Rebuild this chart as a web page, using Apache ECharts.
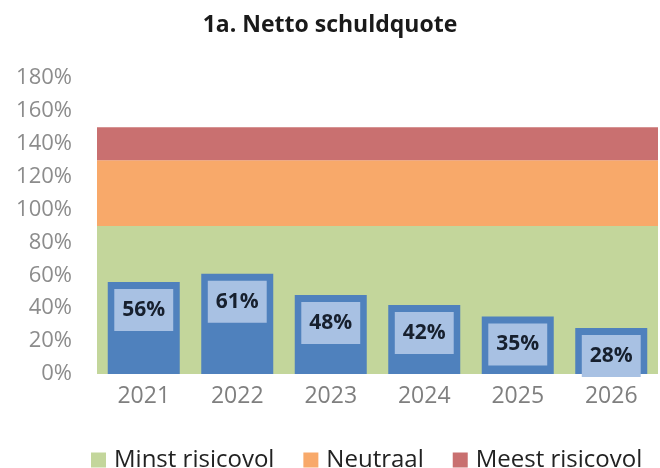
<!DOCTYPE html>
<html>
<head>
<meta charset="utf-8">
<script src="https://cdn.jsdelivr.net/npm/echarts@6/dist/echarts.min.js"></script>
<style>html,body{margin:0;padding:0;background:#fff}#c{width:660px;height:468px}</style>
</head>
<body>
<div id="c"></div>
<script>
const years = ['2021','2022','2023','2024','2025','2026'];
const quote = [56, 61, 48, 42, 35, 28];
const bandNames = ['Minst risicovol','Neutraal','Meest risicovol'];
const bandRanges = [[0, 90], [90, 130], [130, 150]];
const yTicks = [0, 20, 40, 60, 80, 100, 120, 140, 160, 180];

const bandColors = ['#c3d69b', '#f8a96a', '#c97070'];
const font = '"Open Sans", Lato, sans-serif';

const bandSeries = bandNames.map((n, i) => ({
  name: n,
  type: 'line',
  data: [],
  itemStyle: { color: bandColors[i] },
  markArea: {
    silent: true,
    itemStyle: { color: bandColors[i] },
    data: [[{ yAxis: bandRanges[i][0] }, { yAxis: bandRanges[i][1] }]]
  }
}));

const chart = echarts.init(document.getElementById('c'));
chart.setOption({
  animation: false,
  title: {
    text: '1a. Netto schuldquote',
    left: 'center', top: 9,
    textStyle: { fontFamily: font, fontSize: 23, fontWeight: 'bold', color: '#1a1a1a' }
  },
  legend: {
    data: bandNames,
    top: 443, left: 86,
    icon: 'rect', itemWidth: 15, itemHeight: 15, itemGap: 29,
    textStyle: { fontFamily: font, fontSize: 24, color: '#222', padding: [0, 0, 0, 3] }
  },
  grid: { left: 97, right: 2, top: 78, bottom: 94 },
  xAxis: {
    type: 'category',
    data: years,
    axisLine: { show: false },
    axisTick: { show: false },
    axisLabel: { fontFamily: font, fontSize: 23, color: '#7f7f7f', margin: 11 }
  },
  yAxis: {
    type: 'value',
    min: 0, max: 180, interval: 20,
    splitLine: { show: false },
    axisLine: { show: false },
    axisTick: { show: false },
    axisLabel: { fontFamily: font, fontSize: 22, color: '#8c8c8c', margin: 25,
      formatter: v => yTicks.includes(v) ? v + '%' : '' }
  },
  series: [
    ...bandSeries,
    {
      name: 'Netto schuldquote',
      type: 'bar',
      data: quote,
      barWidth: 72,
      z: 5,
      itemStyle: { color: '#4f81bd' },
      label: {
        show: true,
        position: 'insideTop',
        distance: 7,
        formatter: p => p.value + '%',
        backgroundColor: '#a8c1e3',
        padding: [10, 8, 10, 8],
        lineHeight: 22,
        fontFamily: font, fontSize: 21, fontWeight: 'bold', color: '#17202e'
      }
    }
  ]
});
</script>
</body>
</html>
